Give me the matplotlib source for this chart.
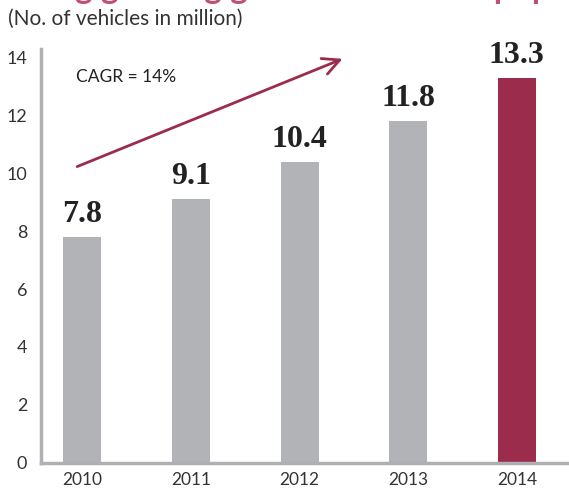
import matplotlib.pyplot as plt

years = ['2010', '2011', '2012', '2013', '2014']
vehicles = [7.8, 9.1, 10.4, 11.8, 13.3]
bar_colors = ['#b2b3b7', '#b2b3b7', '#b2b3b7', '#b2b3b7', '#9b2c4c']
y_ticks = [0, 2, 4, 6, 8, 10, 12, 14]

red = '#9b2c4c'
axis_grey = '#b0b0b4'

plt.rcParams['font.family'] = ['Lato', 'DejaVu Sans']

fig = plt.figure(figsize=(5.69, 4.91), dpi=100)
ax = fig.add_axes([0.072, 0.058, 0.928, 0.842])

x = range(len(years))
ax.bar(x, vehicles, width=0.35, color=bar_colors, zorder=2)

# bold value labels above each bar
for i, v in enumerate(vehicles):
    ax.text(i, v + 0.28, f'{v:.1f}', ha='center', va='bottom',
            fontsize=23, fontweight='bold', color='#222222',
            family='Liberation Serif')

ax.set_xlim(-0.38, 4.48)
ax.set_ylim(0, 14.3)
ax.set_xticks(list(x))
ax.set_xticklabels(years, fontsize=12.5, color='#333333')
ax.set_yticks(y_ticks)
ax.set_yticklabels([str(t) for t in y_ticks], fontsize=13, color='#333333')
ax.tick_params(length=0, pad=10)
ax.tick_params(axis='x', pad=7)

for side in ['top', 'right']:
    ax.spines[side].set_visible(False)
for side in ['left', 'bottom']:
    ax.spines[side].set_color(axis_grey)
    ax.spines[side].set_linewidth(2.5)

# growth arrow and CAGR note
ax.annotate('', xy=(2.42, 14.0), xytext=(-0.07, 10.2),
            arrowprops=dict(arrowstyle='->', color=red, lw=2,
                            mutation_scale=30))
ax.text(-0.06, 13.15, 'CAGR = 14%', fontsize=12.5, color='#222222')

fig.text(0.014, 0.95, '(No. of vehicles in million)', fontsize=15,
         color='#333333')

# title cut off at the top of the image, only descenders show
fig.text(-0.01, 1.002, 'Strong growing growth in vehicle population',
         fontsize=24, fontweight='bold', color='#c05070', va='baseline')

fig.savefig('out.png', dpi=100)
